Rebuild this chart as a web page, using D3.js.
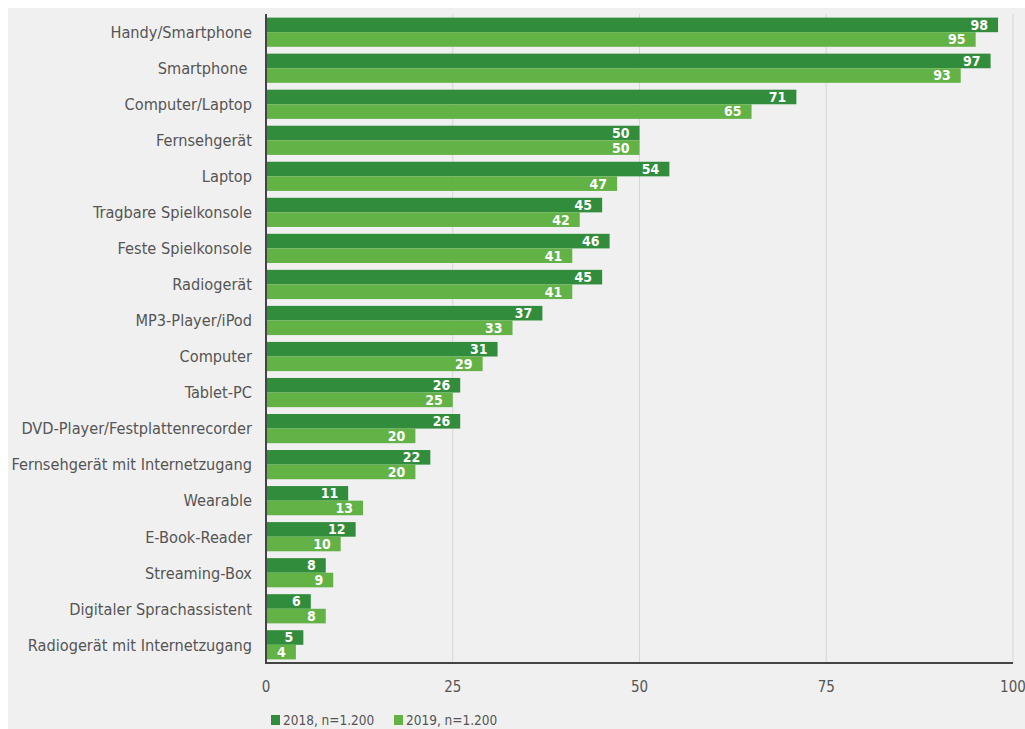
<!DOCTYPE html>
<html><head><meta charset="utf-8">
<script src="https://cdn.jsdelivr.net/npm/d3@7"></script>
<style>
html,body{margin:0;padding:0;background:#fff;}
svg{display:block;}
text{font-family:"Liberation Sans Narrow","DejaVu Sans Condensed","Open Sans",sans-serif;}
</style></head>
<body>
<svg id="chart" width="1025" height="729"></svg>
<script>
const categories = ["Handy/Smartphone","Smartphone\u00a0","Computer/Laptop","Fernsehgerät","Laptop","Tragbare Spielkonsole","Feste Spielkonsole","Radiogerät","MP3-Player/iPod","Computer","Tablet-PC","DVD-Player/Festplattenrecorder","Fernsehgerät mit Internetzugang","Wearable","E-Book-Reader","Streaming-Box","Digitaler Sprachassistent","Radiogerät mit Internetzugang"];
const values2018 = [98,97,71,50,54,45,46,45,37,31,26,26,22,11,12,8,6,5];
const values2019 = [95,93,65,50,47,42,41,41,33,29,25,20,20,13,10,9,8,4];
const seriesNames = ["2018, n=1.200","2019, n=1.200"];
const xTicks = [0,25,50,75,100];

const colors = ["#318d3c","#62b246"];
const svg = d3.select("#chart");
svg.append("rect").attr("x",8).attr("y",8).attr("width",1017).attr("height",721).attr("fill","#f0f0f0");

const m = {left:266, right:1013, top:14, bottom:663};
const x = d3.scaleLinear().domain([0,100]).range([m.left,m.right]);
const y = d3.scaleBand().domain(categories).range([m.top,m.bottom]).paddingInner(0.19).paddingOuter(0.1);
const sub = d3.scaleBand().domain([0,1]).range([0,y.bandwidth()]);

// grid
svg.append("g").selectAll("line").data(xTicks.slice(1)).join("line")
  .attr("x1",d=>x(d)).attr("x2",d=>x(d)).attr("y1",m.top).attr("y2",m.bottom)
  .attr("stroke","#d6d6d6").attr("stroke-width",1);

const series = [values2018, values2019];
series.forEach((vals,si)=>{
  const g = svg.append("g");
  g.selectAll("rect").data(vals).join("rect")
    .attr("x",x(0)).attr("y",(d,i)=>y(categories[i])+sub(si))
    .attr("width",d=>x(d)-x(0)).attr("height",sub.bandwidth())
    .attr("fill",colors[si]);
  g.selectAll("text").data(vals).join("text")
    .attr("x",d=>x(d)-10).attr("y",(d,i)=>y(categories[i])+sub(si)+sub.bandwidth()/2)
    .attr("dy","0.35em").attr("text-anchor","end")
    .attr("fill","#fff").attr("font-size",14).attr("font-weight","bold")
    .text(d=>d);
});

// y axis labels
svg.append("g").selectAll("text").data(categories).join("text")
  .attr("x",m.left-14).attr("y",d=>y(d)+y.bandwidth()/2).attr("dy","0.36em")
  .attr("text-anchor","end").attr("fill","#555").attr("font-size",16.2).text(d=>d);

// axes lines
svg.append("line").attr("x1",m.left).attr("x2",m.left).attr("y1",m.top).attr("y2",m.bottom+1)
  .attr("stroke","#444").attr("stroke-width",2);
svg.append("line").attr("x1",m.left-1).attr("x2",m.right).attr("y1",m.bottom).attr("y2",m.bottom)
  .attr("stroke","#444").attr("stroke-width",2);

// x tick labels
svg.append("g").selectAll("text").data(xTicks).join("text")
  .attr("x",d=>x(d)).attr("y",692).attr("text-anchor","middle")
  .attr("fill","#555").attr("font-size",15).text(d=>d);

// legend
const lg = svg.append("g");
const lx = [271,394];
seriesNames.forEach((n,i)=>{
  lg.append("rect").attr("x",lx[i]).attr("y",715).attr("width",9).attr("height",10).attr("fill",colors[i]);
  lg.append("text").attr("x",lx[i]+12).attr("y",720).attr("dy","0.36em").attr("fill","#555")
    .attr("font-size",13.5).text(n);
});
</script>
</body></html>
